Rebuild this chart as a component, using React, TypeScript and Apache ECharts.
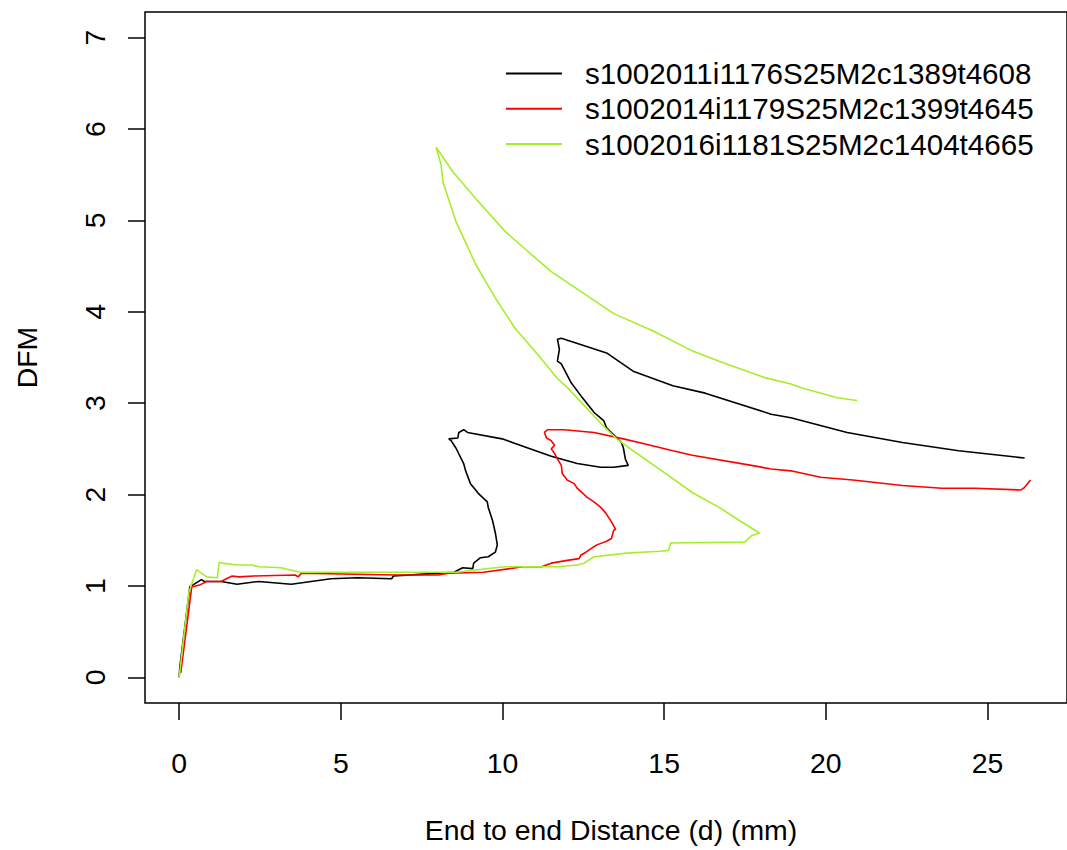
import React, { useEffect, useRef } from "react";
import * as echarts from "echarts";

const seriesNames = [
  "s1002011i1176S25M2c1389t4608",
  "s1002014i1179S25M2c1399t4645",
  "s1002016i1181S25M2c1404t4665",
];
const seriesColors = ["#000000", "#FF0000", "#A6EE2A"];

const xTicks = [0, 5, 10, 15, 20, 25];
const yTicks = [0, 1, 2, 3, 4, 5, 6, 7];

const blackCurve: number[][] = [
  [0, 0], [0.02, 0.11], [0.33, 0.99], [0.69, 1.07], [0.78, 1.05], [1.3, 1.05], [1.79, 1.02],
  [2.46, 1.05], [3.47, 1.02], [4.08, 1.05], [4.69, 1.08], [5.51, 1.09], [6.57, 1.08], [6.63, 1.11],
  [7.55, 1.13], [8.5, 1.15], [8.77, 1.2], [9.08, 1.19], [9.11, 1.25], [9.32, 1.31], [9.56, 1.32],
  [9.78, 1.37], [9.84, 1.45], [9.78, 1.58], [9.69, 1.72], [9.56, 1.86], [9.53, 1.92], [9.26, 2.01],
  [9.17, 2.05], [9.01, 2.12], [8.86, 2.26], [8.8, 2.34], [8.56, 2.51], [8.41, 2.59], [8.34, 2.61],
  [8.62, 2.62], [8.65, 2.68], [8.8, 2.71], [8.92, 2.68], [9.99, 2.61], [10.39, 2.56], [11.51, 2.42],
  [12.31, 2.34], [13.04, 2.3], [13.44, 2.3], [13.89, 2.32], [13.8, 2.39], [13.74, 2.51], [13.68, 2.57],
  [13.22, 2.73], [13.13, 2.81], [12.83, 2.9], [12.43, 3.08], [12.13, 3.22], [11.82, 3.43], [11.7, 3.46],
  [11.76, 3.59], [11.7, 3.7], [11.82, 3.71], [13.22, 3.55], [14.04, 3.35], [15.27, 3.19], [16.27, 3.11],
  [18.31, 2.88], [18.92, 2.84], [20.66, 2.68], [22.37, 2.57], [24.11, 2.48], [26.15, 2.4],
];

const redCurve: number[][] = [
  [0.05, 0.05], [0.39, 0.99], [0.63, 1.01], [0.85, 1.05], [1.3, 1.05], [1.46, 1.08], [1.64, 1.11],
  [1.85, 1.1], [2.31, 1.11], [3.59, 1.12], [3.68, 1.1], [3.78, 1.14], [6.73, 1.12], [8.01, 1.12],
  [8.34, 1.14], [9.41, 1.15], [10.63, 1.21], [11.21, 1.21], [11.51, 1.25], [12.0, 1.28], [12.37, 1.3],
  [12.43, 1.34], [12.58, 1.37], [12.83, 1.43], [12.92, 1.45], [13.22, 1.49], [13.37, 1.52], [13.44, 1.61],
  [13.5, 1.62], [13.34, 1.72], [13.19, 1.8], [13.04, 1.86], [12.83, 1.92], [12.62, 1.97], [12.31, 2.07],
  [12.22, 2.12], [12.0, 2.16], [11.85, 2.23], [11.82, 2.32], [11.7, 2.39], [11.61, 2.45], [11.51, 2.5],
  [11.61, 2.54], [11.51, 2.59], [11.36, 2.62], [11.3, 2.68], [11.39, 2.71], [11.91, 2.71], [12.83, 2.68],
  [13.74, 2.61], [14.35, 2.56], [15.27, 2.48], [15.87, 2.43], [17.7, 2.32], [18.31, 2.28], [18.92, 2.26],
  [19.84, 2.19], [20.84, 2.16], [22.37, 2.1], [23.59, 2.07], [24.62, 2.07], [26.03, 2.05], [26.15, 2.08],
  [26.33, 2.16],
];

const greenCurve: number[][] = [
  [0, 0], [0.3, 0.93], [0.54, 1.18], [0.85, 1.1], [1.18, 1.09], [1.24, 1.26], [1.33, 1.25], [1.79, 1.23],
  [2.25, 1.23], [2.46, 1.21], [3.16, 1.2], [3.74, 1.15], [8.56, 1.15], [9.78, 1.2], [10.08, 1.21],
  [11.7, 1.21], [12.31, 1.23], [12.52, 1.25], [12.83, 1.32], [13.84, 1.36], [14.86, 1.38], [15.14, 1.39],
  [15.2, 1.47], [17.49, 1.48], [17.7, 1.55], [17.95, 1.58], [17.4, 1.7], [16.7, 1.86], [15.88, 2.02],
  [15.05, 2.23], [14.04, 2.48], [13.53, 2.61], [13.04, 2.78], [12.01, 3.17], [11.7, 3.27], [11.0, 3.57],
  [10.39, 3.82], [9.78, 4.15], [9.17, 4.52], [8.56, 4.99], [8.16, 5.42], [8.1, 5.61], [7.95, 5.8],
  [8.47, 5.53], [9.17, 5.24], [10.08, 4.88], [10.69, 4.69], [11.51, 4.44], [12.43, 4.22], [13.44, 3.98],
  [14.66, 3.79], [15.88, 3.57], [16.7, 3.46], [18.11, 3.28], [18.92, 3.21], [19.32, 3.16], [20.36, 3.06],
  [20.97, 3.03],
];

const curves = [blackCurve, redCurve, greenCurve];

const FONT = "Liberation Sans, Arial, sans-serif";
const FS = 28.4;
const LEGEND_FS = 29.6;

export default function App() {
  const ref = useRef<HTMLDivElement>(null);
  useEffect(() => {
    if (!ref.current) return;
    const chart = echarts.init(ref.current, undefined, { renderer: "svg" });
    chart.setOption({
      animation: false,
      backgroundColor: "#ffffff",
      textStyle: { fontFamily: FONT },
      grid: {
        left: 145,
        top: 12,
        width: 935,
        height: 691,
        show: true,
        borderColor: "#000",
        borderWidth: 1.5,
        containLabel: false,
      },
      legend: {
        orient: "vertical",
        left: 501,
        top: 51,
        icon: "rect",
        itemWidth: 56,
        itemHeight: 2,
        itemGap: 0,
        data: seriesNames,
        textStyle: {
          fontFamily: FONT,
          fontSize: LEGEND_FS,
          color: "#000",
          lineHeight: 35.2,
          padding: [0, 0, 0, 18],
        },
      },
      xAxis: {
        type: "value",
        min: -1.056,
        max: 27.46,
        name: "End to end Distance (d) (mm)",
        nameLocation: "middle",
        nameGap: 113,
        nameTextStyle: { fontFamily: FONT, fontSize: FS, color: "#000", padding: [0, 0, 0, 10] },
        axisLine: { show: false, onZero: false },
        splitLine: { show: false },
        axisTick: {
          show: true,
          length: 17,
          customValues: xTicks,
          lineStyle: { color: "#000", width: 1.5 },
        },
        axisLabel: {
          customValues: xTicks,
          margin: 46,
          fontFamily: FONT,
          fontSize: FS,
          color: "#000",
        },
      },
      yAxis: {
        type: "value",
        min: -0.28,
        max: 7.28,
        name: "DFM",
        nameLocation: "middle",
        nameGap: 104,
        nameRotate: 90,
        nameTextStyle: { fontFamily: FONT, fontSize: FS, color: "#000" },
        axisLine: { show: false, onZero: false },
        splitLine: { show: false },
        axisTick: {
          show: true,
          length: 17,
          customValues: yTicks,
          lineStyle: { color: "#000", width: 1.5 },
        },
        axisLabel: {
          customValues: yTicks,
          rotate: 90,
          margin: 36,
          fontFamily: FONT,
          fontSize: FS,
          color: "#000",
        },
      },
      series: curves.map((c, i) => ({
        name: seriesNames[i],
        type: "line",
        data: c,
        showSymbol: false,
        symbol: "none",
        clip: true,
        color: seriesColors[i],
        itemStyle: { color: seriesColors[i] },
        lineStyle: { color: seriesColors[i], width: 1.6 },
      })),
    });
    return () => chart.dispose();
  }, []);
  return (
    <div
      ref={ref}
      style={{ position: "fixed", left: 0, top: 0, width: 1067, height: 850, background: "#fff" }}
    />
  );
}
